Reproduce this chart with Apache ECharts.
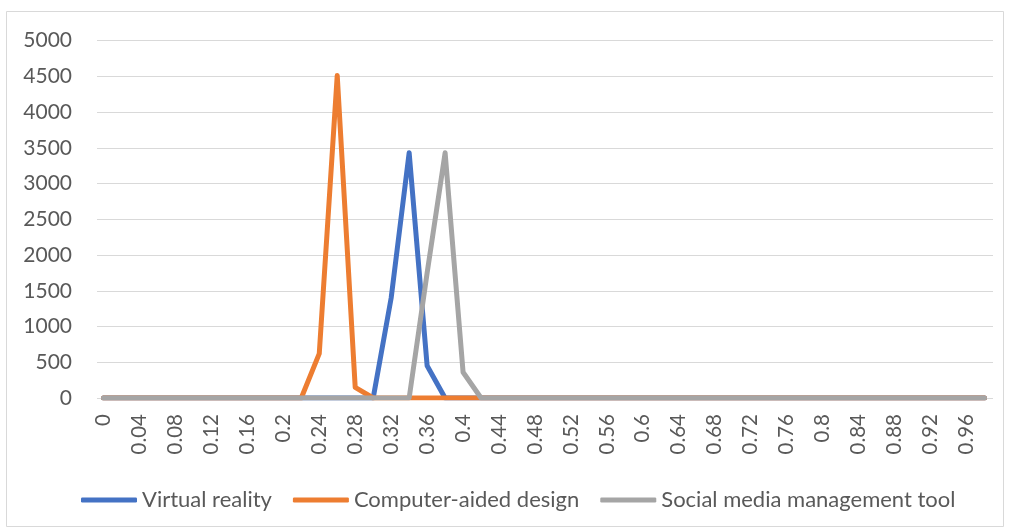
<!DOCTYPE html>
<html>
<head>
<meta charset="utf-8">
<script src="https://cdn.jsdelivr.net/npm/echarts@6/dist/echarts.min.js"></script>
<style>
  html, body { margin: 0; padding: 0; background: #ffffff; }
  #chart { width: 1009px; height: 529px; }
</style>
</head>
<body>
<div id="chart"></div>
<script>
// Share buckets on the horizontal axis
const shares = [
  '0', '0.02', '0.04', '0.06', '0.08', '0.1', '0.12', '0.14', '0.16', '0.18',
  '0.2', '0.22', '0.24', '0.26', '0.28', '0.3', '0.32', '0.34', '0.36', '0.38',
  '0.4', '0.42', '0.44', '0.46', '0.48', '0.5', '0.52', '0.54', '0.56', '0.58',
  '0.6', '0.62', '0.64', '0.66', '0.68', '0.7', '0.72', '0.74', '0.76', '0.78',
  '0.8', '0.82', '0.84', '0.86', '0.88', '0.9', '0.92', '0.94', '0.96', '0.98'
];

const seriesNames = ['Virtual reality', 'Computer-aided design', 'Social media management tool'];

const virtualReality = [
  0, 0, 0, 0, 0, 0, 0, 0, 0, 0,
  0, 0, 0, 0, 0, 0, 1400, 3430, 450, 0,
  0, 0, 0, 0, 0, 0, 0, 0, 0, 0,
  0, 0, 0, 0, 0, 0, 0, 0, 0, 0,
  0, 0, 0, 0, 0, 0, 0, 0, 0, 0
];

const computerAidedDesign = [
  0, 0, 0, 0, 0, 0, 0, 0, 0, 0,
  0, 0, 620, 4510, 150, 0, 0, 0, 0, 0,
  0, 0, 0, 0, 0, 0, 0, 0, 0, 0,
  0, 0, 0, 0, 0, 0, 0, 0, 0, 0,
  0, 0, 0, 0, 0, 0, 0, 0, 0, 0
];

const socialMediaTool = [
  0, 0, 0, 0, 0, 0, 0, 0, 0, 0,
  0, 0, 0, 0, 0, 0, 0, 0, 1750, 3430,
  360, 0, 0, 0, 0, 0, 0, 0, 0, 0,
  0, 0, 0, 0, 0, 0, 0, 0, 0, 0,
  0, 0, 0, 0, 0, 0, 0, 0, 0, 0
];

const yTicks = { min: 0, max: 5000, interval: 500 };

const colors = ['#4472C4', '#ED7D31', '#A5A5A5'];
const fontFamily = 'Lato, "Open Sans", sans-serif';
const textColor = '#595959';

const chart = echarts.init(document.getElementById('chart'), null, { renderer: 'canvas' });

function lineSeries(name, data, color) {
  return {
    name: name,
    type: 'line',
    xAxisIndex: 0,
    yAxisIndex: 0,
    data: data,
    showSymbol: false,
    symbol: 'none',
    color: color,
    lineStyle: { color: color, width: 5, cap: 'round', join: 'round' }
  };
}

chart.setOption({
  animation: false,
  backgroundColor: '#ffffff',
  graphic: [{
    type: 'rect',
    silent: true,
    shape: { x: 6.5, y: 11.5, width: 997, height: 515 },
    style: { fill: 'transparent', stroke: '#d9d9d9', lineWidth: 1 }
  }],
  grid: [
    // plot area for the lines
    { left: 103.5, right: 24.5, top: 40.5, bottom: 131, containLabel: false },
    // gridlines and value labels, slightly wider than the line area
    { left: 97, right: 16, top: 40.5, bottom: 131, containLabel: false }
  ],
  legend: {
    data: seriesNames,
    left: 76,
    top: 484,
    icon: 'roundRect',
    itemWidth: 56,
    itemHeight: 5,
    itemGap: 21,
    textStyle: { fontFamily: fontFamily, fontSize: 22, color: textColor }
  },
  xAxis: [
    {
      gridIndex: 0,
      type: 'category',
      data: shares,
      boundaryGap: false,
      axisLine: { show: false },
      axisTick: { show: false },
      splitLine: { show: false },
      axisLabel: {
        rotate: 90,
        interval: 1,
        margin: 16,
        fontFamily: fontFamily,
        fontSize: 20.5,
        color: textColor
      }
    },
    { gridIndex: 1, type: 'value', min: 0, max: 1, show: false }
  ],
  yAxis: [
    { gridIndex: 0, type: 'value', min: yTicks.min, max: yTicks.max, show: false },
    {
      gridIndex: 1,
      type: 'value',
      min: yTicks.min,
      max: yTicks.max,
      interval: yTicks.interval,
      axisLine: { show: false },
      axisTick: { show: false },
      axisLabel: {
        margin: 25,
        fontFamily: fontFamily,
        fontSize: 21,
        color: textColor,
        formatter: function (v) { return String(v); }
      },
      splitLine: { lineStyle: { color: '#d9d9d9', width: 1 } }
    }
  ],
  series: [
    lineSeries(seriesNames[0], virtualReality, colors[0]),
    lineSeries(seriesNames[1], computerAidedDesign, colors[1]),
    lineSeries(seriesNames[2], socialMediaTool, colors[2])
  ]
});
</script>
</body>
</html>
